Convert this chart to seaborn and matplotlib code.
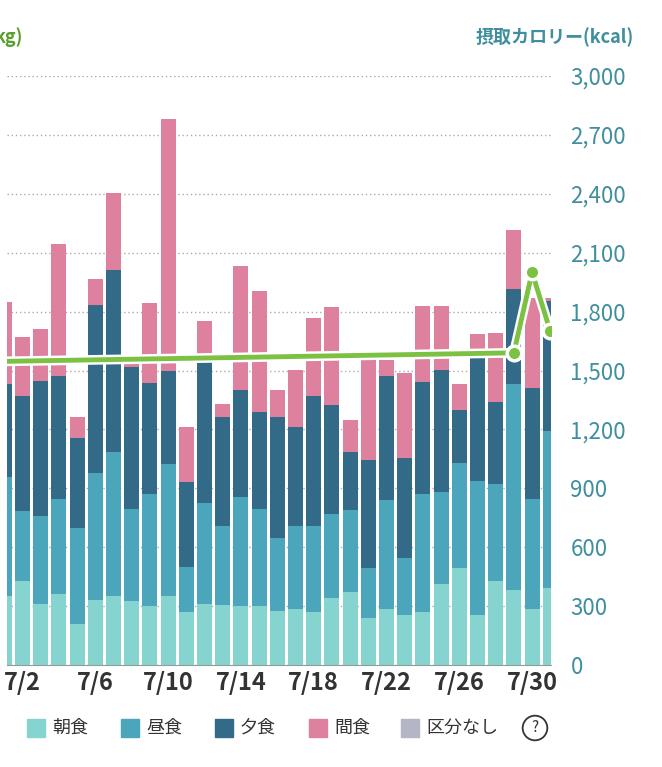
import numpy as np
import pandas as pd
import matplotlib.pyplot as plt
import seaborn as sns

# daily intake (kcal), July
days = list(range(1, 32))
breakfast = [353, 426, 312, 364, 210, 333, 353, 328, 301, 353, 270, 312, 306, 301, 299, 277,
             283, 272, 339, 370, 239, 287, 256, 272, 412, 495, 254, 428, 380, 283, 391]
lunch_top = [956, 786, 761, 848, 696, 977, 1083, 796, 869, 1025, 501, 827, 709, 857, 794, 645,
             709, 707, 771, 790, 495, 840, 545, 869, 879, 1031, 936, 921, 1430, 848, 1191]
dinner_top = [1430, 1368, 1445, 1470, 1154, 1832, 2010, 1520, 1434, 1497, 931, 1545, 1264, 1403, 1287, 1264,
              1210, 1368, 1322, 1087, 1042, 1472, 1056, 1441, 1503, 1299, 1565, 1341, 1915, 1410, 1852]
snack_top = [1850, 1669, 1711, 2143, 1264, 1965, 2403, 1534, 1846, 2782, 1212, 1753, 1328, 2033, 1904, 1399,
             1501, 1767, 1825, 1247, 1555, 1555, 1487, 1829, 1829, 1430, 1684, 1690, 2216, 1867, 1867]

# weight trend line, drawn in kcal-axis units
weight_days = [0, 29, 30, 31]
weight_pos = [1545, 1590, 2000, 1700]
marker_days = [29, 30, 31]

colors = {"朝食": "#86d4cf", "昼食": "#4ba5bb", "夕食": "#336a88", "間食": "#de819f", "区分なし": "#b4b6c6"}

df = pd.DataFrame({"day": days, "b": breakfast, "l": lunch_top, "d": dinner_top, "s": snack_top})

plt.rcParams['font.family'] = ['Noto Sans CJK JP', 'DejaVu Sans']
fig = plt.figure(figsize=(6.62, 7.67), dpi=100)
ax = fig.add_axes([7 / 662, 1 - 665 / 767, (551 - 7) / 662, (665 - 76) / 767])

for col, name in [("s", "間食"), ("d", "夕食"), ("l", "昼食"), ("b", "朝食")]:
    sns.barplot(data=df, x="day", y=col, native_scale=True, color=colors[name],
                width=0.82, saturation=1, ax=ax, zorder=2)

ax.plot(weight_days, weight_pos, color="white", lw=7, zorder=3, solid_capstyle="round")
ax.plot(weight_days, weight_pos, color="#7cc142", lw=3.5, zorder=4)
mk = [weight_pos[weight_days.index(d)] for d in marker_days]
ax.scatter(marker_days, mk, s=110, color="#7cc142", edgecolor="white", linewidth=2.5, zorder=5)

ax.set_xlim(1.15, 31.04)
ax.set_ylim(0, 3000)
ax.set_yticks(range(0, 3001, 300))
ax.yaxis.tick_right()
ax.set_yticklabels([f"{v:,}" for v in range(0, 3001, 300)], color="#3f8f9e", fontsize=16)
ax.set_xticks([2, 6, 10, 14, 18, 22, 26, 30])
ax.set_xticklabels(["7/2", "7/6", "7/10", "7/14", "7/18", "7/22", "7/26", "7/30"],
                   fontsize=17, fontweight="bold", color="#333333")
ax.tick_params(length=0, pad=4)
ax.tick_params(axis="y", pad=14)
ax.set_xlabel("")
ax.set_ylabel("")
ax.grid(axis="y", ls=(0, (1, 2)), color="#aaaaaa", lw=1, zorder=0)
ax.set_axisbelow(True)
for sp in ["top", "left", "right"]:
    ax.spines[sp].set_visible(False)
ax.spines["bottom"].set_color("#999999")

fig.text(0.958, 0.952, "摂取カロリー(kcal)", ha="right", va="center", fontsize=13,
         fontweight="bold", color="#3f8f9e")
fig.text(-0.008, 0.952, "kg)", ha="left", va="center", fontsize=13,
         fontweight="bold", color="#5a9e2f")

# legend row
items = list(colors.items())
xs = [27, 121, 215, 309, 401]
for (name, c), x in zip(items, xs):
    fig.patches.append(plt.Rectangle((x / 662, 1 - 737 / 767), 18 / 662, 18 / 767,
                                     transform=fig.transFigure, color=c))
    fig.text((x + 25) / 662, 1 - 728 / 767, name, ha="left", va="center", fontsize=13, color="#333333")
fig.text(535 / 662, 1 - 728 / 767, "?", ha="center", va="center", fontsize=11, color="#333333",
         bbox=dict(boxstyle="circle,pad=0.25", fc="white", ec="#333333", lw=1.3))

fig.savefig("out.png", dpi=100)
